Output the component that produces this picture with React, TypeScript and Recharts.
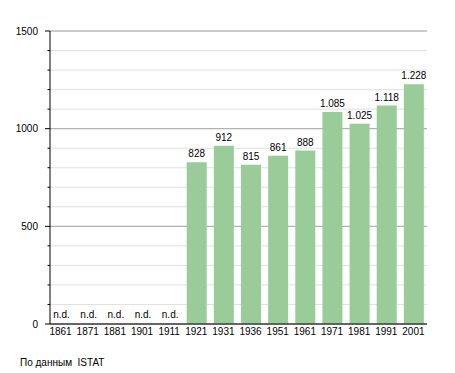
import React from "react";
import { BarChart, Bar, XAxis, YAxis, CartesianGrid, LabelList } from "recharts";

const years = ["1861", "1871", "1881", "1901", "1911", "1921", "1931", "1936", "1951", "1961", "1971", "1981", "1991", "2001"];
const population: (number | null)[] = [null, null, null, null, null, 828, 912, 815, 861, 888, 1085, 1025, 1118, 1228];
const minorTicks = [0, 100, 200, 300, 400, 500, 600, 700, 800, 900, 1000, 1100, 1200, 1300, 1400, 1500];
const majorTicks = [0, 500, 1000, 1500];
const missingLabel = "n.d.";
const sourceNote = "По данным  ISTAT";

const fmt = (v: number) => {
  const s = String(v);
  return s.length > 3 ? s.slice(0, s.length - 3) + "." + s.slice(s.length - 3) : s;
};

const data = years.map((y, i) => {
  const v = population[i];
  return { year: y, value: v, label: v == null ? missingLabel : fmt(v) };
});

const FONT = "'Liberation Sans', Arial, Helvetica, sans-serif";

const YTick = (props: any) => {
  const { x, y, payload } = props;
  const isMajor = majorTicks.includes(payload.value);
  return (
    <g>
      <line x1={x - (isMajor ? 5 : 2.5)} x2={x} y1={y} y2={y} stroke="#000" strokeWidth={1} />
      {isMajor && (
        <text x={x - 12} y={y} dy="0.355em" textAnchor="end" fontSize={10} fontFamily={FONT} fill="#000">
          {payload.value}
        </text>
      )}
    </g>
  );
};

const XTick = (props: any) => {
  const { x, y, payload, index } = props;
  const missing = population[index] == null;
  return (
    <g>
      <text x={x} y={y} dy="0.71em" textAnchor="middle" fontSize={10} fontFamily={FONT} fill="#000">
        {payload.value}
      </text>
      {missing && (
        <text x={x + 1} y={y - 10} textAnchor="middle" fontSize={10} fontFamily={FONT} fill="#000">
          {missingLabel}
        </text>
      )}
    </g>
  );
};

export default function App() {
  return (
    <div style={{ position: "absolute", left: 0, top: 0, width: 455, height: 373, background: "#fff", fontFamily: FONT }}>
      <BarChart width={455} height={373} data={data} margin={{ top: 31, right: 28, left: 0, bottom: 29 }}>
        <CartesianGrid vertical={false} stroke="#e0e0e0" horizontalValues={minorTicks} />
        <CartesianGrid vertical={false} stroke="#a8a8a8" horizontalValues={majorTicks} />
        <XAxis
          dataKey="year"
          height={20}
          tickLine={false}
          tickSize={0}
          tickMargin={4}
          axisLine={{ stroke: "#000" }}
          tick={<XTick />}
          interval={0}
          padding={{ left: -3, right: 0 }}
        />
        <YAxis
          width={50}
          domain={[0, 1500]}
          ticks={minorTicks}
          interval={0}
          tickLine={false}
          tickSize={0}
          tickMargin={0}
          axisLine={{ stroke: "#000" }}
          tick={<YTick />}
        />
        <Bar dataKey="value" fill="#99cc99" barSize={20} isAnimationActive={false}>
          <LabelList dataKey="label" position="top" offset={5} fontSize={10} fill="#000" fontFamily={FONT} />
        </Bar>
      </BarChart>
      <div style={{ position: "absolute", left: 20, top: 357, fontSize: 10, lineHeight: "12px", whiteSpace: "pre", color: "#000" }}>
        {sourceNote}
      </div>
    </div>
  );
}
